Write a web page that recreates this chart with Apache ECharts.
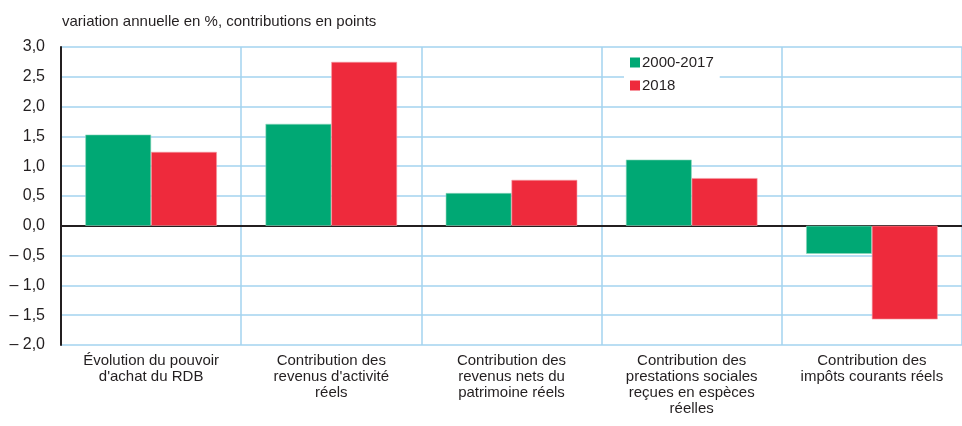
<!DOCTYPE html>
<html>
<head>
<meta charset="utf-8">
<script src="https://cdn.jsdelivr.net/npm/echarts@6/dist/echarts.min.js"></script>
<style>
  html, body { margin: 0; padding: 0; background: #fff; }
  #chart { width: 962px; height: 426px; }
</style>
</head>
<body>
<div id="chart"></div>
<script>
// données
const categories = [
  "Évolution du pouvoir\nd'achat du RDB",
  "Contribution des\nrevenus d'activité\nréels",
  "Contribution des\nrevenus nets du\npatrimoine réels",
  "Contribution des\nprestations sociales\nreçues en espèces\nréelles",
  "Contribution des\nimpôts courants réels"
];
const seriesNames = ['2000-2017', '2018'];
const values2000_2017 = [1.53, 1.71, 0.55, 1.11, -0.47];
const values2018 = [1.24, 2.75, 0.77, 0.80, -1.57];
const yMin = -2.0;
const yMax = 3.0;
const yStep = 0.5;

const FONT = '"Liberation Sans Narrow", "Liberation Sans", Arial, sans-serif';
const TEXT = '#231f20';
const GRID = '#a3d3ef';

const chart = echarts.init(document.getElementById('chart'), null, { renderer: 'canvas' });

// format "– 0,5"
const fmt = (v) => {
  const s = Math.abs(v).toFixed(1).replace('.', ',');
  return v < 0 ? '\u2013 ' + s : s;
};

chart.setOption({
  animation: false,
  backgroundColor: '#fff',
  textStyle: { fontFamily: FONT, color: TEXT },
  title: {
    text: 'variation annuelle en %, contributions en points',
    left: 57,
    top: 9,
    textStyle: { fontFamily: FONT, fontSize: 15, fontWeight: 'normal', color: TEXT }
  },
  legend: {
    data: seriesNames,
    orient: 'vertical',
    left: 624,
    top: 51,
    itemWidth: 10,
    itemHeight: 10,
    itemGap: 8,
    padding: [4, 6, 4, 6],
    backgroundColor: '#fff',
    icon: 'rect',
    itemStyle: { borderWidth: 0 },
    textStyle: { fontFamily: FONT, fontSize: 15, color: TEXT, padding: [0, 0, 0, -3] }
  },
  grid: {
    left: 61,
    right: 0,
    top: 47,
    bottom: 81,
    containLabel: false
  },
  xAxis: {
    type: 'category',
    data: categories,
    axisLine: { onZero: true, lineStyle: { color: '#231f20', width: 2 } },
    axisTick: { show: false },
    splitLine: { show: true, lineStyle: { color: GRID, width: 1.5 } },
    axisLabel: {
      interval: 0,
      margin: 8,
      fontFamily: FONT,
      fontSize: 15,
      lineHeight: 16,
      color: TEXT,
      align: 'center',
      verticalAlign: 'top'
    }
  },
  yAxis: {
    type: 'value',
    min: yMin,
    max: yMax,
    interval: yStep,
    axisLine: { show: true, lineStyle: { color: '#231f20', width: 2 } },
    axisTick: { show: false },
    splitLine: { show: true, lineStyle: { color: GRID, width: 1.5 } },
    axisLabel: {
      margin: 16,
      fontFamily: FONT,
      fontSize: 16,
      color: TEXT,
      formatter: fmt
    }
  },
  series: [
    {
      name: seriesNames[0],
      type: 'bar',
      data: values2000_2017,
      barGap: '0%',
      barCategoryGap: '27%',
      itemStyle: { color: '#00a874', borderColor: '#8fd6bd', borderWidth: 0.6 }
    },
    {
      name: seriesNames[1],
      type: 'bar',
      data: values2018,
      itemStyle: { color: '#ee2a3c', borderColor: '#f59aa2', borderWidth: 0.6 }
    }
  ]
});

window.addEventListener('resize', () => chart.resize());
</script>
</body>
</html>
